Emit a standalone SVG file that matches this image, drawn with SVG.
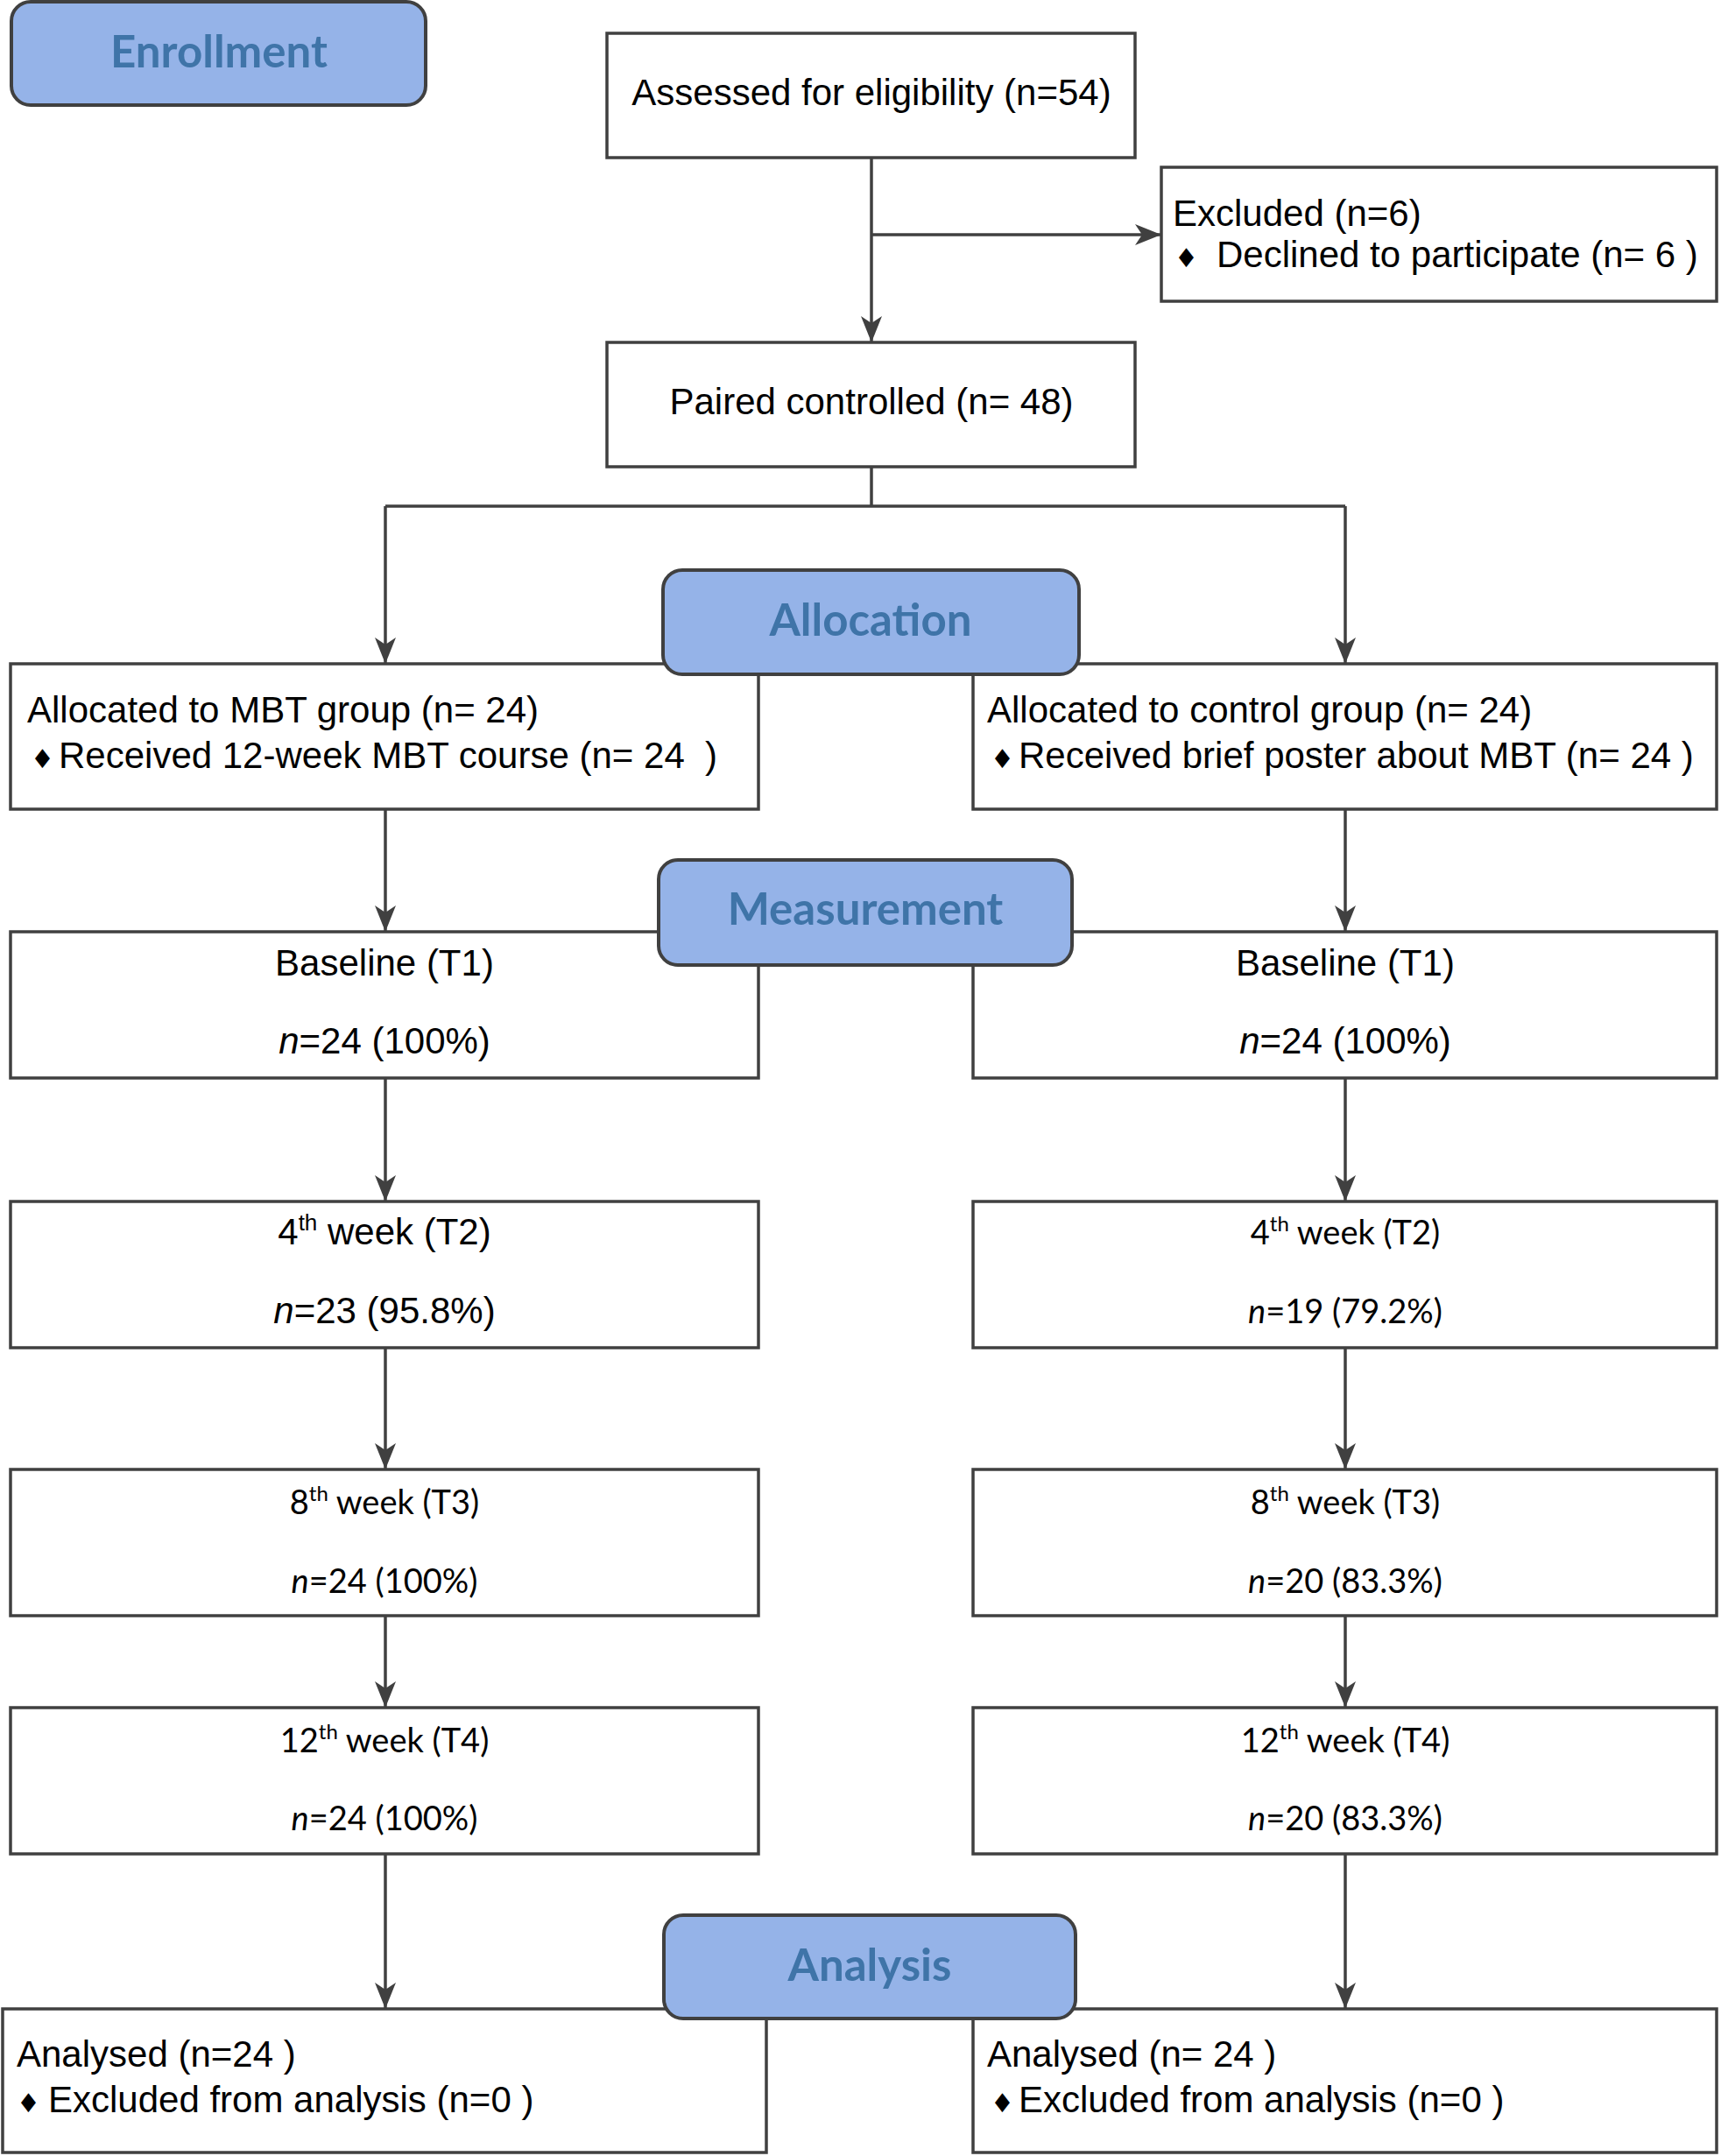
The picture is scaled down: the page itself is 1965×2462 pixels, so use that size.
<svg xmlns="http://www.w3.org/2000/svg" width="1965" height="2462" viewBox="0 0 1965 2462">
<defs>
<style>
.box{fill:#ffffff;stroke:#404040;stroke-width:3.5}
.hd{fill:#95b3e8;stroke:#404040;stroke-width:4}
.ht{font-family:Lato,"Liberation Sans",sans-serif;font-weight:bold;font-size:51px;fill:#3f74a8;text-anchor:middle}
.t{font-family:"Liberation Sans",Arial,sans-serif;font-size:42px;fill:#000000}
.c{text-anchor:middle}
.k{font-family:Lato,"Liberation Sans",sans-serif;font-size:38px;fill:#000000;text-anchor:middle}
.dm{font-family:"DejaVu Sans",sans-serif;font-size:30px}
.ln{fill:none;stroke:#404040;stroke-width:3.5}
.i{font-style:italic}
</style>
<marker id="ah" markerUnits="userSpaceOnUse" markerWidth="32" markerHeight="24" refX="30" refY="12" orient="auto">
<path d="M0,0 L30,12 L0,24 L8,12 Z" fill="#404040"/>
</marker>
</defs>
<rect width="1965" height="2462" fill="#ffffff"/>

<g id="connectors">
<path class="ln" d="M995,180 V391" marker-end="url(#ah)"/>
<path class="ln" d="M995,268 H1326" marker-end="url(#ah)"/>
<path class="ln" d="M995,533 V578 M440,578 H1536"/>
<path class="ln" d="M440,578 V758" marker-end="url(#ah)"/>
<path class="ln" d="M1536,578 V758" marker-end="url(#ah)"/>
<path class="ln" d="M440,924 V1064" marker-end="url(#ah)"/>
<path class="ln" d="M1536,924 V1064" marker-end="url(#ah)"/>
<path class="ln" d="M440,1231 V1372" marker-end="url(#ah)"/>
<path class="ln" d="M1536,1231 V1372" marker-end="url(#ah)"/>
<path class="ln" d="M440,1539 V1678" marker-end="url(#ah)"/>
<path class="ln" d="M1536,1539 V1678" marker-end="url(#ah)"/>
<path class="ln" d="M440,1845 V1950" marker-end="url(#ah)"/>
<path class="ln" d="M1536,1845 V1950" marker-end="url(#ah)"/>
<path class="ln" d="M440,2117 V2294" marker-end="url(#ah)"/>
<path class="ln" d="M1536,2117 V2294" marker-end="url(#ah)"/>
</g>

<g id="assessed">
<rect class="box" x="693" y="38" width="603" height="142"/>
<text class="t c" x="995" y="120">Assessed for eligibility (n=54)</text>
</g>

<g id="excluded">
<rect class="box" x="1326" y="191" width="634" height="153"/>
<text class="t" x="1339" y="258">Excluded (n=6)</text>
<text class="t" y="305"><tspan class="dm" x="1341">♦</tspan><tspan x="1389">Declined to participate (n= 6 )</tspan></text>
</g>

<g id="paired">
<rect class="box" x="693" y="391" width="603" height="142"/>
<text class="t c" x="995" y="473">Paired controlled (n= 48)</text>
</g>

<g id="alloc-mbt">
<rect class="box" x="12" y="758" width="854" height="166"/>
<text class="t" x="31" y="825">Allocated to MBT group (n= 24)</text>
<text class="t" y="877"><tspan class="dm" x="35">♦</tspan><tspan x="67">Received 12-week MBT course (n= 24&#160;&#160;)</tspan></text>
</g>

<g id="alloc-control">
<rect class="box" x="1111" y="758" width="849" height="166"/>
<text class="t" x="1127" y="825">Allocated to control group (n= 24)</text>
<text class="t" y="877"><tspan class="dm" x="1131">♦</tspan><tspan x="1163">Received brief poster about MBT (n= 24 )</tspan></text>
</g>

<g id="baseline-mbt">
<rect class="box" x="12" y="1064" width="854" height="167"/>
<text class="t c" x="439" y="1114">Baseline (T1)</text>
<text class="t c" x="439" y="1203"><tspan class="i">n</tspan>=24 (100%)</text>
</g>

<g id="baseline-control">
<rect class="box" x="1111" y="1064" width="849" height="167"/>
<text class="t c" x="1536" y="1114">Baseline (T1)</text>
<text class="t c" x="1536" y="1203"><tspan class="i">n</tspan>=24 (100%)</text>
</g>

<g id="week4-mbt">
<rect class="box" x="12" y="1372" width="854" height="167"/>
<text class="t c" x="439" y="1421">4<tspan font-size="26" dy="-16">th</tspan><tspan dy="16"> week (T2)</tspan></text>
<text class="t c" x="439" y="1511"><tspan class="i">n</tspan>=23 (95.8%)</text>
</g>

<g id="week4-control">
<rect class="box" x="1111" y="1372" width="849" height="167"/>
<text class="k" x="1536" y="1421">4<tspan font-size="24" dy="-15">th</tspan><tspan dy="15"> week (T2)</tspan></text>
<text class="k" x="1536" y="1511"><tspan class="i">n</tspan>=19 (79.2%)</text>
</g>

<g id="week8-mbt">
<rect class="box" x="12" y="1678" width="854" height="167"/>
<text class="k" x="439" y="1729">8<tspan font-size="24" dy="-15">th</tspan><tspan dy="15"> week (T3)</tspan></text>
<text class="k" x="439" y="1819"><tspan class="i">n</tspan>=24 (100%)</text>
</g>

<g id="week8-control">
<rect class="box" x="1111" y="1678" width="849" height="167"/>
<text class="k" x="1536" y="1729">8<tspan font-size="24" dy="-15">th</tspan><tspan dy="15"> week (T3)</tspan></text>
<text class="k" x="1536" y="1819"><tspan class="i">n</tspan>=20 (83.3%)</text>
</g>

<g id="week12-mbt">
<rect class="box" x="12" y="1950" width="854" height="167"/>
<text class="k" x="439" y="2001">12<tspan font-size="24" dy="-15">th</tspan><tspan dy="15"> week (T4)</tspan></text>
<text class="k" x="439" y="2090"><tspan class="i">n</tspan>=24 (100%)</text>
</g>

<g id="week12-control">
<rect class="box" x="1111" y="1950" width="849" height="167"/>
<text class="k" x="1536" y="2001">12<tspan font-size="24" dy="-15">th</tspan><tspan dy="15"> week (T4)</tspan></text>
<text class="k" x="1536" y="2090"><tspan class="i">n</tspan>=20 (83.3%)</text>
</g>

<g id="analysed-mbt">
<rect class="box" x="3" y="2294" width="872" height="164"/>
<text class="t" x="19" y="2360">Analysed (n=24 )</text>
<text class="t" y="2412"><tspan class="dm" x="19">♦</tspan><tspan x="55">Excluded from analysis (n=0 )</tspan></text>
</g>

<g id="analysed-control">
<rect class="box" x="1111" y="2294" width="849" height="164"/>
<text class="t" x="1127" y="2360">Analysed (n= 24 )</text>
<text class="t" y="2412"><tspan class="dm" x="1131">♦</tspan><tspan x="1163">Excluded from analysis (n=0 )</tspan></text>
</g>

<g id="enrollment">
<rect class="hd" x="13" y="2" width="473" height="118" rx="22"/>
<text class="ht" x="250" y="77">Enrollment</text>
</g>

<g id="allocation">
<rect class="hd" x="757" y="651" width="475" height="119" rx="22"/>
<text class="ht" x="994" y="726">Allocation</text>
</g>

<g id="measurement">
<rect class="hd" x="752" y="982" width="472" height="120" rx="22"/>
<text class="ht" x="988" y="1056">Measurement</text>
</g>

<g id="analysis">
<rect class="hd" x="758" y="2187" width="470" height="118" rx="22"/>
<text class="ht" x="993" y="2262">Analysis</text>
</g>
</svg>
